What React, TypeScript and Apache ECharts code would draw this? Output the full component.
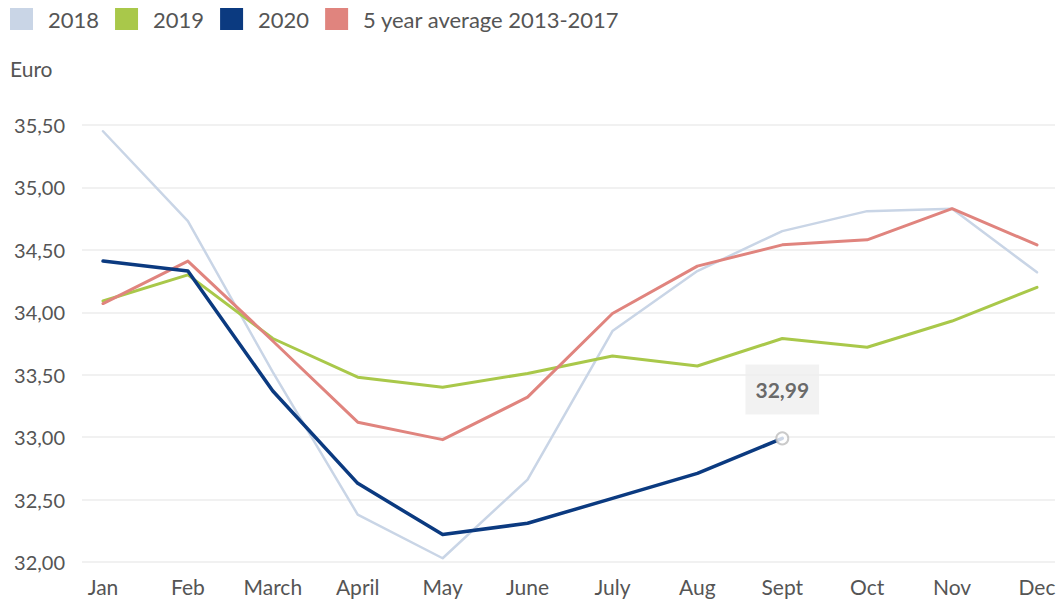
import React, { useEffect, useRef } from "react";
import * as echarts from "echarts";

const months = ["Jan", "Feb", "March", "April", "May", "June", "July", "Aug", "Sept", "Oct", "Nov", "Dec"];
const data2018 = [35.45, 34.73, 33.52, 32.38, 32.03, 32.66, 33.85, 34.33, 34.65, 34.81, 34.83, 34.32];
const data2019 = [34.09, 34.3, 33.79, 33.48, 33.4, 33.51, 33.65, 33.57, 33.79, 33.72, 33.93, 34.2];
const data2020 = [34.41, 34.33, 33.37, 32.63, 32.22, 32.31, 32.51, 32.71, 32.99];
const dataAvg = [34.07, 34.41, 33.77, 33.12, 32.98, 33.32, 33.99, 34.37, 34.54, 34.58, 34.83, 34.54];
const seriesNames = ["2018", "2019", "2020", "5 year average 2013-2017"];
const colors = ["#c9d5e6", "#a9c84a", "#0b3a80", "#e0847e"];
const yTicks = { min: 32, max: 35.5, step: 0.5 };

const FONT = "Lato, 'Open Sans', sans-serif";
const fmt = (v: number) => v.toFixed(2).replace(".", ",");

export default function App() {
  const ref = useRef<HTMLDivElement>(null);
  useEffect(() => {
    if (!ref.current) return;
    const chart = echarts.init(ref.current, undefined, { renderer: "svg" });
    const lastIdx = data2020.length - 1;
    const lineBase = (name: string, data: number[], color: string, width: number, z: number) => ({
      name,
      type: "line",
      xAxisIndex: 1,
      yAxisIndex: 1,
      data,
      symbol: "none",
      showSymbol: false,
      z,
      lineStyle: { color, width, join: "round", cap: "round" },
      itemStyle: { color },
    });
    chart.setOption({
      animation: false,
      textStyle: { fontFamily: FONT },
      legend: {
        data: seriesNames,
        left: 10,
        top: 8,
        padding: 0,
        itemGap: 16,
        itemWidth: 23,
        itemHeight: 22,
        icon: "rect",
        textStyle: { fontSize: 22, color: "#555", fontFamily: FONT, padding: [0, 0, 0, 10] },
      },
      graphic: [
        {
          type: "text",
          left: 10,
          top: 58,
          style: { text: "Euro", fontSize: 21, fill: "#555", fontFamily: FONT },
        },
      ],
      grid: [
        { left: 82, right: 7, top: 125, height: 437 },
        { left: 103, right: 25, top: 125, height: 437 },
      ],
      xAxis: [
        { type: "value", gridIndex: 0, show: false, min: 0, max: 1 },
        {
          type: "category",
          gridIndex: 1,
          data: months,
          boundaryGap: false,
          axisLine: { show: false },
          axisTick: { show: false },
          splitLine: { show: false },
          axisLabel: { fontSize: 21, color: "#555", margin: 14, fontFamily: FONT },
        },
      ],
      yAxis: [
        {
          type: "value",
          gridIndex: 0,
          min: yTicks.min,
          max: yTicks.max,
          interval: yTicks.step,
          axisLine: { show: false },
          axisTick: { show: false },
          axisLabel: { fontSize: 20, color: "#555", margin: 17, formatter: fmt, fontFamily: FONT },
          splitLine: { show: true, lineStyle: { color: "#ececec", width: 1.5 } },
        },
        {
          type: "value",
          gridIndex: 1,
          min: yTicks.min,
          max: yTicks.max,
          interval: yTicks.step,
          show: false,
          splitLine: { show: false },
        },
      ],
      series: [
        lineBase(seriesNames[0], data2018, colors[0], 2.5, 2),
        lineBase(seriesNames[1], data2019, colors[1], 3, 3),
        lineBase(seriesNames[3], dataAvg, colors[3], 3, 4),
        lineBase(seriesNames[2], data2020, colors[2], 3.5, 5),
        {
          type: "scatter",
          xAxisIndex: 1,
          yAxisIndex: 1,
          z: 10,
          symbol: "circle",
          symbolSize: 12,
          itemStyle: { color: "#fff", borderColor: "#bdbdbd", borderWidth: 2 },
          data: [[months[lastIdx], data2020[lastIdx]]],
          label: {
            show: true,
            position: "top",
            distance: 17,
            formatter: (p: any) => fmt(p.value[1]),
            fontSize: 21,
            fontWeight: "bold",
            color: "#444",
            backgroundColor: "#efefef",
            padding: [15, 10, 14, 10],
            fontFamily: FONT,
          },
          silent: true,
        },
      ],
    });
    return () => chart.dispose();
  }, []);
  return (
    <div
      ref={ref}
      style={{ position: "absolute", left: 0, top: 0, width: 1062, height: 604, background: "#fff" }}
    />
  );
}
